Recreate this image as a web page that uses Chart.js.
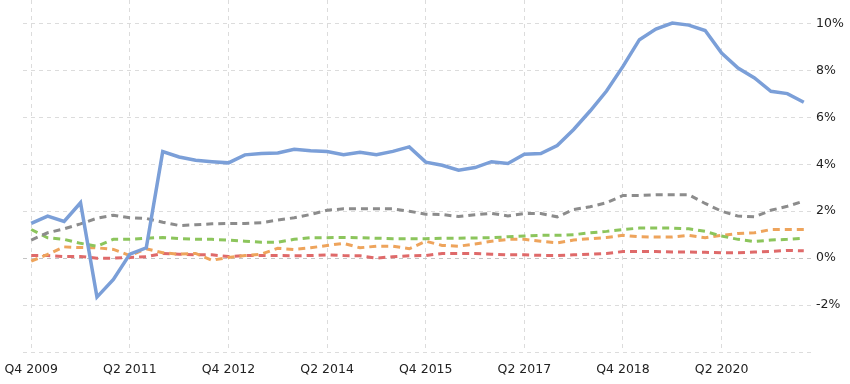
<!DOCTYPE html>
<html>
<head>
<meta charset="utf-8">
<script src="https://cdn.jsdelivr.net/npm/chart.js@4.4.0/dist/chart.umd.min.js"></script>
<style>
  html, body { margin: 0; padding: 0; background: #fff; }
  #wrap { width: 850px; height: 384px; }
</style>
</head>
<body>
<div id="wrap"><canvas id="chart"></canvas></div>
<script>
// Çeyreklik etiketler: Q4 2009 - Q3 2021
const quarters = [];
for (let y = 2009; y <= 2021; y++) {
    for (let q = 1; q <= 4; q++) {
        if ((y === 2009 && q < 4) || (y === 2021 && q > 3)) continue;
        quarters.push('Q' + q + ' ' + y);
    }
}

// Seriler (%)
const blueSeries = [1.48, 1.79, 1.56, 2.36, -1.66, -0.91, 0.17, 0.44, 4.54, 4.31, 4.17, 4.11,
    4.06, 4.40, 4.46, 4.48, 4.64, 4.58, 4.54, 4.41, 4.51, 4.41, 4.55, 4.74,
    4.09, 3.96, 3.75, 3.86, 4.11, 4.03, 4.43, 4.46, 4.80, 5.48, 6.27, 7.12,
    8.17, 9.31, 9.76, 10.02, 9.93, 9.70, 8.74, 8.10, 7.68, 7.11, 7.01, 6.64];
const greySeries = [0.77, 1.08, 1.25, 1.46, 1.70, 1.83, 1.72, 1.69, 1.53, 1.39, 1.42, 1.46,
    1.48, 1.48, 1.51, 1.62, 1.72, 1.86, 2.04, 2.10, 2.10, 2.10, 2.10, 2.00,
    1.87, 1.86, 1.77, 1.85, 1.91, 1.80, 1.90, 1.90, 1.76, 2.07, 2.19, 2.36,
    2.67, 2.67, 2.70, 2.70, 2.70, 2.33, 2.00, 1.79, 1.76, 2.04, 2.21, 2.43];
const greenSeries = [1.22, 0.87, 0.80, 0.63, 0.51, 0.80, 0.80, 0.85, 0.88, 0.83, 0.80, 0.80,
    0.77, 0.72, 0.68, 0.68, 0.80, 0.87, 0.87, 0.88, 0.87, 0.85, 0.83, 0.83,
    0.83, 0.85, 0.85, 0.86, 0.87, 0.91, 0.94, 0.97, 0.97, 1.00, 1.08, 1.14,
    1.22, 1.28, 1.28, 1.28, 1.25, 1.14, 0.94, 0.80, 0.71, 0.77, 0.80, 0.85];
const orangeSeries = [-0.13, 0.16, 0.48, 0.45, 0.44, 0.37, 0.11, 0.40, 0.23, 0.17, 0.20, -0.09,
    0.03, 0.11, 0.17, 0.42, 0.37, 0.44, 0.54, 0.63, 0.44, 0.51, 0.51, 0.40,
    0.72, 0.54, 0.51, 0.60, 0.72, 0.80, 0.80, 0.72, 0.65, 0.77, 0.83, 0.88,
    0.97, 0.91, 0.90, 0.90, 0.97, 0.87, 0.97, 1.05, 1.08, 1.22, 1.22, 1.22];
const redSeries = [0.11, 0.11, 0.07, 0.07, 0.00, 0.00, 0.03, 0.06, 0.20, 0.17, 0.14, 0.14,
    0.07, 0.11, 0.11, 0.11, 0.10, 0.11, 0.14, 0.11, 0.10, 0.00, 0.06, 0.10,
    0.11, 0.20, 0.20, 0.20, 0.17, 0.14, 0.14, 0.12, 0.11, 0.14, 0.17, 0.20,
    0.28, 0.28, 0.28, 0.26, 0.26, 0.25, 0.23, 0.23, 0.26, 0.28, 0.33, 0.31];

const yTicks = [-4, -2, 0, 2, 4, 6, 8, 10];

const FONT = { family: '"DejaVu Sans", Verdana, sans-serif', size: 12.5 };

function dashed(label, data, color) {
    return {
        label: label,
        data: data,
        borderColor: color,
        borderWidth: 3,
        borderDash: [7, 5],
        pointRadius: 0,
        tension: 0,
        fill: false
    };
}

new Chart(document.getElementById('chart'), {
    type: 'line',
    data: {
        labels: quarters,
        datasets: [
            {
                label: 'A',
                data: blueSeries,
                borderColor: '#7b9fd8',
                borderWidth: 3.5,
                pointRadius: 0,
                tension: 0,
                fill: false
            },
            dashed('B', greySeries, '#8c8c8c'),
            dashed('C', greenSeries, '#8cc55c'),
            dashed('D', orangeSeries, '#eea45c'),
            dashed('E', redSeries, '#df6a6a')
        ]
    },
    options: {
        responsive: true,
        maintainAspectRatio: false,
        animation: false,
        layout: { padding: { left: 23, top: 0, right: 0, bottom: 0 } },
        plugins: {
            legend: { display: false },
            tooltip: { enabled: false }
        },
        scales: {
            x: {
                offset: true,
                grid: {
                    offset: false,
                    drawTicks: false,
                    color: ctx => (ctx.index % 6 === 0 ? '#dcdcdc' : 'rgba(0,0,0,0)'),
                    lineWidth: 1
                },
                border: { display: false, dash: [4, 4] },
                ticks: {
                    autoSkip: false,
                    maxRotation: 0,
                    padding: 10,
                    color: '#222',
                    font: FONT,
                    callback: function(val, idx) {
                        return idx % 6 === 0 ? this.getLabelForValue(val) : '';
                    }
                },
                afterFit: s => { s.height = 32; s.paddingLeft = 0; s.paddingRight = 0; }
            },
            y: {
                position: 'right',
                min: -4,
                max: 11,
                afterBuildTicks: s => { s.ticks = yTicks.map(v => ({ value: v })); },
                grid: {
                    drawTicks: false,
                    color: ctx => (ctx.tick && ctx.tick.value === 0 ? '#c4c4c4' : '#dcdcdc'),
                    lineWidth: 1
                },
                border: { display: false, dash: [4, 4] },
                ticks: {
                    padding: 4,
                    color: '#222',
                    font: FONT,
                    callback: v => (v === -4 ? '' : v + '%')
                },
                afterFit: s => { s.width = 38; s.paddingTop = 0; s.paddingBottom = 0; }
            }
        }
    }
});
</script>
</body>
</html>
